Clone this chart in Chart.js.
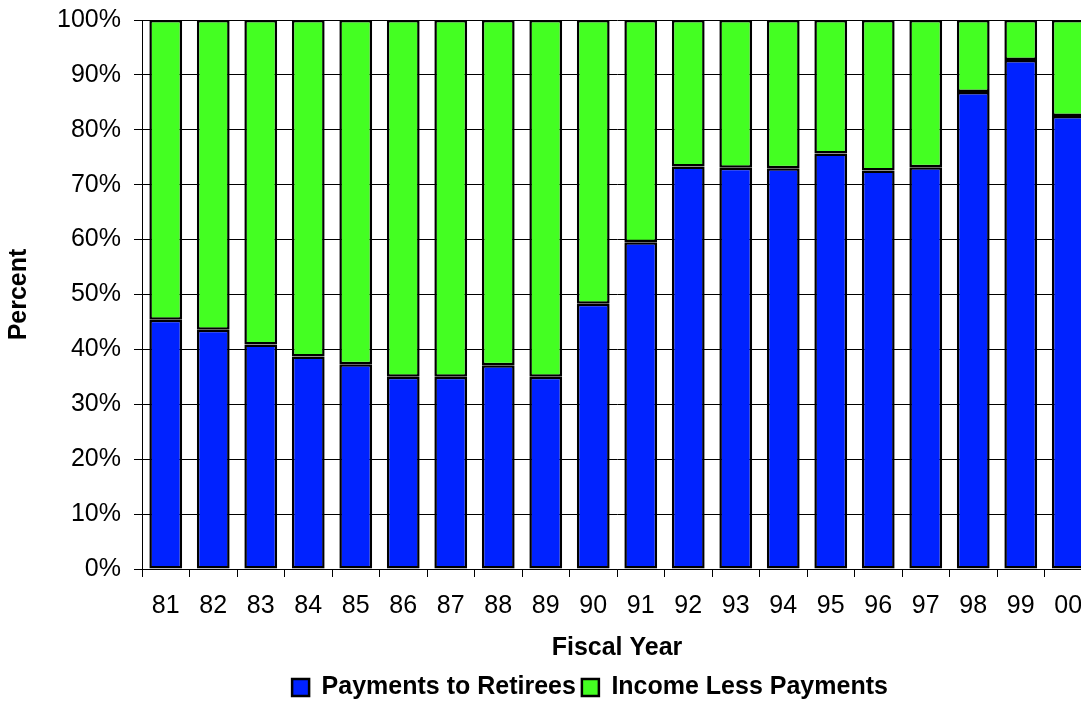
<!DOCTYPE html>
<html>
<head>
<meta charset="utf-8">
<script src="https://cdn.jsdelivr.net/npm/chart.js@4.4.0/dist/chart.umd.min.js"></script>
<style>
  html, body { margin: 0; padding: 0; background: #fff; overflow: hidden; }
  #wrap { width: 1180px; height: 702px; }
</style>
</head>
<body>
<div id="wrap"><canvas id="c" width="1180" height="702"></canvas></div>
<script>
const years = ['81','82','83','84','85','86','87','88','89','90','91','92','93','94','95','96','97','98','99','00'];
const paymentsToRetirees = [45.4, 43.6, 40.9, 38.7, 37.3, 35.0, 35.0, 37.1, 35.0, 48.3, 59.5, 73.3, 73.1, 73.0, 75.7, 72.6, 73.2, 86.9, 92.7, 82.5];
const incomeLessPayments = [54.6, 56.4, 59.1, 61.3, 62.7, 65.0, 65.0, 62.9, 65.0, 51.7, 40.5, 26.7, 26.9, 27.0, 24.3, 27.4, 26.8, 13.1, 7.3, 17.5];
const yTicks = [0, 10, 20, 30, 40, 50, 60, 70, 80, 90, 100];

const FONT = 'Arial, "Liberation Sans", sans-serif';

const legendShift = {
  id: 'legendShift',
  afterLayout(chart) {
    const l = chart.legend;
    if (!l) return;
    l.left = 0; l.right = chart.width; l.width = chart.width;
    l.top += 8; l.bottom += 8;
  }
};

new Chart(document.getElementById('c'), {
  type: 'bar',
  data: {
    labels: years,
    datasets: [
      { label: 'Payments to Retirees', data: paymentsToRetirees, backgroundColor: '#0022FF', borderColor: '#000', borderWidth: 2.5, borderSkipped: false, inflateAmount: 0, barPercentage: 0.69, categoryPercentage: 1 },
      { label: 'Income Less Payments', data: incomeLessPayments, backgroundColor: '#44FF22', borderColor: '#000', borderWidth: 2.5, borderSkipped: false, inflateAmount: 0, barPercentage: 0.69, categoryPercentage: 1 }
    ]
  },
  plugins: [legendShift],
  options: {
    responsive: false,
    animation: false,
    layout: { padding: { top: 20, right: 88, left: 0, bottom: 0 } },
    plugins: {
      tooltip: { enabled: false },
      legend: {
        position: 'bottom',
        labels: {
          boxWidth: 17, boxHeight: 17, padding: 6,
          color: '#000',
          font: { family: FONT, size: 25, weight: 'bold' }
        }
      }
    },
    scales: {
      x: {
        stacked: true,
        afterFit: s => { s.height = 92; },
        grid: { display: true, offset: true, drawOnChartArea: false, drawTicks: true, tickLength: 8, color: '#000', lineWidth: 1 },
        border: { display: true, color: '#000', width: 1 },
        ticks: { color: '#000', padding: 14, maxRotation: 0, autoSkip: false, font: { family: FONT, size: 25 } },
        title: { display: true, text: 'Fiscal Year', color: '#000', padding: { top: 0, bottom: 0 }, font: { family: FONT, size: 25, weight: 'bold', lineHeight: 1.0 } }
      },
      y: {
        stacked: true,
        min: 0, max: 100,
        afterFit: s => { s.width = 142; s.paddingTop = 0; s.paddingBottom = 0; },
        afterBuildTicks: s => { s.ticks = yTicks.map(v => ({ value: v })); },
        grid: { color: '#000', lineWidth: 1, tickLength: 8, drawTicks: true },
        border: { display: true, color: '#000', width: 1 },
        ticks: { color: '#000', padding: 13, callback: v => v + '%', font: { family: FONT, size: 25 } },
        title: { display: true, text: 'Percent', color: '#000', padding: { top: 4, bottom: 0 }, font: { family: FONT, size: 25, weight: 'bold' } }
      }
    }
  }
});
</script>
</body>
</html>
